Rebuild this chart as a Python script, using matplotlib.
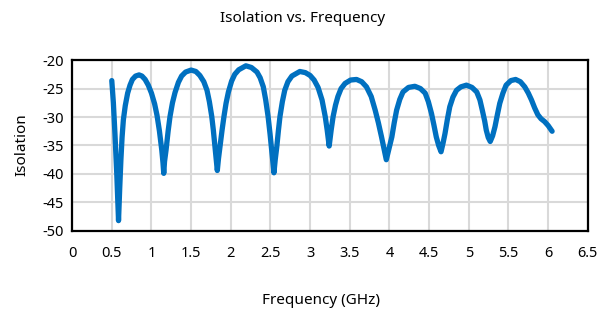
import matplotlib
matplotlib.use("Agg")
import matplotlib.pyplot as plt

plt.rcParams["font.family"] = ["Noto Sans", "DejaVu Sans"]
plt.rcParams["axes.unicode_minus"] = False

# Frequency (GHz) and isolation (dB)
freq = [0.50, 0.52, 0.54, 0.563, 0.585, 0.60, 0.615, 0.63, 0.646, 0.67, 0.70, 0.73, 0.76, 0.80, 0.844,
        0.88, 0.92, 0.96, 1.00, 1.04, 1.07, 1.10, 1.13, 1.145, 1.155,
        1.165, 1.184, 1.21, 1.234, 1.265, 1.297, 1.34, 1.38, 1.43, 1.50,
        1.56, 1.61, 1.66, 1.70, 1.73, 1.76, 1.78, 1.80, 1.815, 1.83,
        1.845, 1.864, 1.89, 1.914, 1.94, 1.97, 2.01, 2.05, 2.10, 2.19,
        2.26, 2.33, 2.37, 2.41, 2.44, 2.47, 2.495, 2.515, 2.53, 2.544,
        2.56, 2.58, 2.60, 2.62, 2.65, 2.68, 2.72, 2.77, 2.87,
        2.94, 3.00, 3.05, 3.10, 3.15, 3.19, 3.215, 3.24,
        3.265, 3.29, 3.32, 3.35, 3.39, 3.44, 3.51, 3.585,
        3.65, 3.71, 3.77, 3.82, 3.86, 3.90, 3.93, 3.96,
        3.995, 4.03, 4.06, 4.09, 4.13, 4.17, 4.24, 4.32,
        4.39, 4.45, 4.49, 4.53, 4.56, 4.59, 4.62, 4.65,
        4.675, 4.70, 4.73, 4.76, 4.80, 4.845, 4.90, 4.97,
        5.04, 5.10, 5.14, 5.17, 5.20, 5.22, 5.245, 5.27,
        5.30, 5.33, 5.36, 5.39, 5.43, 5.47, 5.53, 5.59,
        5.65, 5.705, 5.75, 5.79, 5.83, 5.87, 5.91, 5.955, 6.00, 6.05]
isolation = [-23.6, -27.5, -33.0, -40.0, -48.2, -42.5, -37.5, -33.5, -30.5, -28.0, -25.8, -24.4, -23.4, -22.8, -22.6,
             -22.8, -23.4, -24.4, -25.8, -27.7, -29.7, -32.4, -35.8, -38.0, -39.9,
             -37.8, -35.8, -32.5, -29.9, -27.5, -25.7, -23.9, -22.8, -22.1, -21.75,
             -22.0, -22.7, -23.8, -25.3, -27.3, -29.9, -32.3, -35.2, -37.3, -39.4,
             -37.3, -35.2, -32.3, -29.9, -27.6, -25.6, -23.7, -22.5, -21.7, -21.0,
             -21.3, -22.1, -23.1, -24.7, -27.0, -29.9, -33.0, -35.8, -37.8, -39.8,
             -37.5, -35.2, -32.4, -29.9, -27.3, -25.3, -23.8, -22.8, -22.0,
             -22.2, -22.7, -23.5, -24.8, -27.0, -29.9, -32.3, -35.1,
             -32.3, -29.9, -27.9, -26.4, -25.0, -24.1, -23.5, -23.4,
             -23.8, -24.7, -26.4, -28.8, -31.0, -33.5, -35.5, -37.5,
             -35.5, -33.5, -31.0, -28.8, -26.9, -25.6, -24.8, -24.6,
             -25.0, -25.8, -27.3, -29.4, -31.4, -33.5, -35.0, -36.1,
             -34.6, -32.9, -30.4, -28.2, -26.5, -25.3, -24.7, -24.4,
             -24.8, -25.6, -27.0, -28.8, -30.7, -32.3, -33.6, -34.3,
             -33.3, -31.7, -29.6, -27.6, -25.8, -24.4, -23.6, -23.4,
             -23.8, -24.7, -25.8, -27.0, -28.4, -29.6, -30.3, -30.8, -31.5, -32.5]

x_ticks = [0, 0.5, 1, 1.5, 2, 2.5, 3, 3.5, 4, 4.5, 5, 5.5, 6, 6.5]
y_ticks = [-50, -45, -40, -35, -30, -25, -20]

fig = plt.figure(figsize=(6.06, 3.18), dpi=100)
ax = fig.add_axes([0.119, 0.274, 0.851, 0.537])

ax.plot(freq, isolation, color="#0070C0", linewidth=3.8, solid_capstyle="round",
        solid_joinstyle="round")

ax.set_xlim(0, 6.5)
ax.set_ylim(-50, -20)
ax.set_xticks(x_ticks)
ax.set_xticklabels([f"{t:g}" for t in x_ticks])
ax.set_yticks(y_ticks)
ax.grid(True, color="#D9D9D9", linewidth=1.5)
ax.set_axisbelow(True)
ax.tick_params(length=0, labelsize=10.5, colors="black")
ax.tick_params(axis="x", pad=11)
ax.tick_params(axis="y", pad=6)
for s in ax.spines.values():
    s.set_color("black")
    s.set_linewidth(1.6)

fig.text(0.5, 0.943, "Isolation vs. Frequency", ha="center", va="center", fontsize=11)
fig.text(0.53, 0.055, "Frequency (GHz)", ha="center", va="center", fontsize=11)
fig.text(0.036, 0.545, "Isolation", ha="center", va="center", rotation=90, fontsize=11)

fig.savefig("out.png", dpi=100)
